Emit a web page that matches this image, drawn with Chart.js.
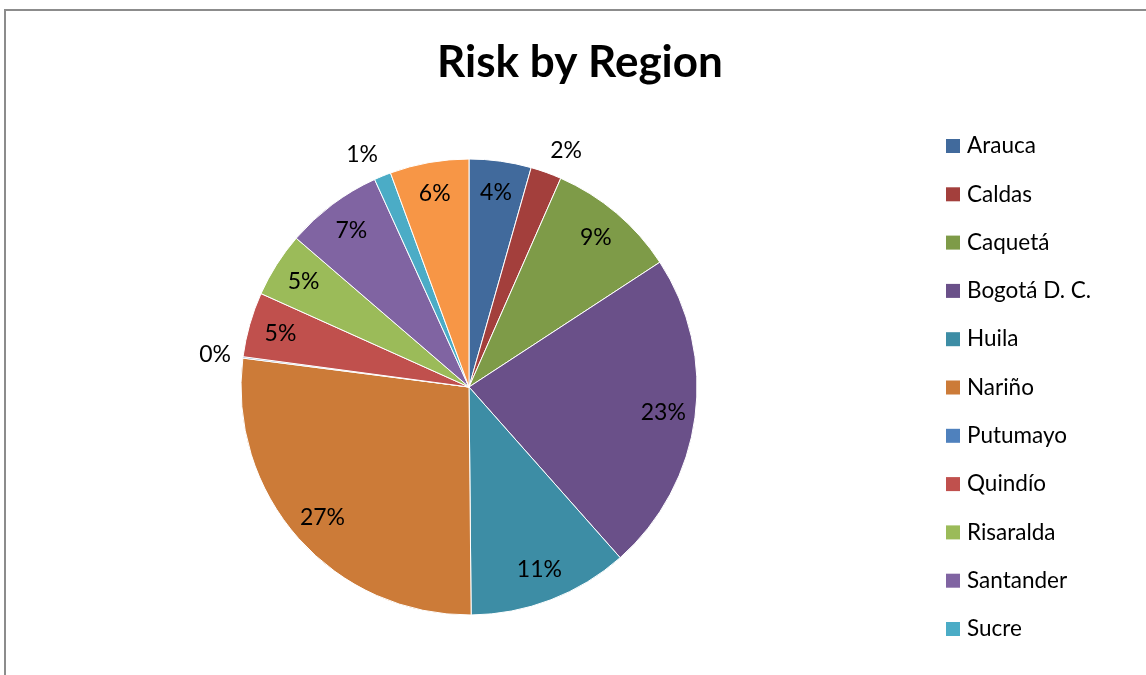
<!DOCTYPE html>
<html>
<head>
<meta charset="utf-8">
<title>Risk by Region</title>
<script src="https://cdn.jsdelivr.net/npm/chart.js@4.4.1/dist/chart.umd.min.js"></script>
<style>
  html, body { margin: 0; padding: 0; background: #fff; }
  #wrap { position: relative; width: 1146px; height: 675px; overflow: hidden; }
  #frame { position: absolute; left: 4px; top: 9px; width: 1200px; height: 700px;
           border-left: 2px solid #8c8c8c; border-top: 2px solid #8c8c8c; }
  canvas { position: absolute; left: 0; top: 0; }
</style>
</head>
<body>
<div id="wrap">
  <div id="frame"></div>
  <canvas id="riskChart" width="1146" height="675"></canvas>
</div>
<script>
// values (share of risk, in %)
const regions = ['Arauca', 'Caldas', 'Caquetá', 'Bogotá D. C.', 'Huila', 'Nariño',
                 'Putumayo', 'Quindío', 'Risaralda', 'Santander', 'Sucre', 'Tolima'];
const riskShare = [4.4, 2.2, 9.2, 22.7, 11.4, 27.2, 0.1, 4.6, 4.6, 6.9, 1.2, 5.6];
// the legend of the original stops after Sucre (last entry cut off)
const legendShown = 11;

const sliceColors = ['#416a9c', '#a33f3c', '#7e9b48', '#6a5089', '#3d8da5', '#cc7b38',
                     '#4f81bd', '#c0504d', '#9bbb59', '#8064a2', '#4bacc6', '#f79646'];

const FONT = 'Lato, "Open Sans", sans-serif';

// percent labels, title and legend
const labelsPlugin = {
  id: 'riskLabels',
  afterDatasetsDraw(chart) {
    const ctx = chart.ctx;
    const meta = chart.getDatasetMeta(0);
    const total = riskShare.reduce((a, b) => a + b, 0);
    ctx.save();
    ctx.font = '23px ' + FONT;
    ctx.fillStyle = '#000';
    ctx.textAlign = 'center';
    ctx.textBaseline = 'middle';
    meta.data.forEach((arc, i) => {
      const p = arc.getProps(['x', 'y', 'startAngle', 'endAngle', 'outerRadius'], true);
      const mid = (p.startAngle + p.endAngle) / 2;
      const dx = Math.cos(mid), dy = Math.sin(mid);
      const pct = riskShare[i] / total * 100;
      const text = Math.round(pct) + '%';
      let x, y;
      if (pct < 3) {
        const w = ctx.measureText(text).width;
        const r = p.outerRadius + 12;
        x = p.x + dx * r + Math.sign(dx) * w / 2;
        y = p.y + dy * r + dy * 11;
      } else {
        const r = p.outerRadius * 0.86;
        x = p.x + dx * r;
        y = p.y + dy * r;
      }
      ctx.fillText(text, x, y);
    });
    ctx.restore();
  },
  afterDraw(chart) {
    const ctx = chart.ctx;
    ctx.save();
    // title
    ctx.font = 'bold 44px ' + FONT;
    ctx.fillStyle = '#000';
    ctx.textAlign = 'center';
    ctx.textBaseline = 'alphabetic';
    ctx.fillText('Risk by Region', 580, 77);
    // legend
    ctx.font = '22.5px ' + FONT;
    ctx.textAlign = 'left';
    ctx.textBaseline = 'middle';
    for (let i = 0; i < legendShown; i++) {
      const cy = 146 + i * 48.3;
      ctx.fillStyle = sliceColors[i];
      ctx.fillRect(946, cy - 7, 14, 14);
      ctx.fillStyle = '#000';
      ctx.fillText(regions[i], 967, cy);
    }
    ctx.restore();
  }
};

new Chart(document.getElementById('riskChart'), {
  type: 'pie',
  data: {
    labels: regions,
    datasets: [{
      data: riskShare,
      backgroundColor: sliceColors,
      borderColor: '#ffffff',
      borderWidth: 1,
      radius: 228
    }]
  },
  options: {
    responsive: false,
    animation: false,
    layout: { padding: { left: 0, right: 208, top: 99, bottom: 0 } },
    plugins: {
      legend: { display: false },
      title: { display: false },
      tooltip: { enabled: false }
    }
  },
  plugins: [labelsPlugin]
});
</script>
</body>
</html>
